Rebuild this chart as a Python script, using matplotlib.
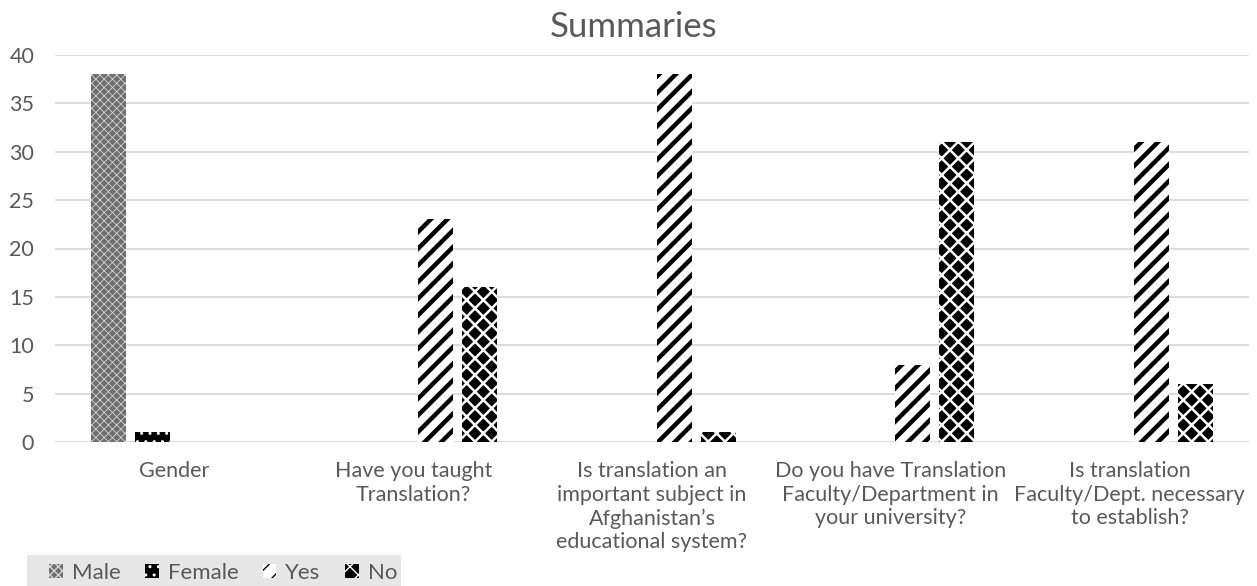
import matplotlib.pyplot as plt
from matplotlib.patches import Rectangle
import numpy as np

plt.rcParams['font.family'] = ['Lato', 'DejaVu Sans']

categories = [
    'Gender',
    'Have you taught\nTranslation?',
    'Is translation an\nimportant subject in\nAfghanistan\u2019s\neducational system?',
    'Do you have Translation\nFaculty/Department in\nyour university?',
    'Is translation\nFaculty/Dept. necessary\nto establish?',
]
series_names = ['Male', 'Female', 'Yes', 'No']
male = [38, 0, 0, 0, 0]
female = [1, 0, 0, 0, 0]
yes = [0, 23, 38, 8, 31]
no = [0, 16, 1, 31, 6]
yticks = [0, 5, 10, 15, 20, 25, 30, 35, 40]

text_grey = '#595959'
grid_grey = '#d9d9d9'

# face colour, hatch, hatch colour, hatch line width per series
styles = [
    ('#6e6e6e', 'xxxx', '#d4d4d4', 0.6),
    ('black', '..', 'white', 1.0),
    ('white', '//', 'black', 3.2),
    ('black', 'xx', 'white', 1.8),
]

W, H = 1257, 586
fig = plt.figure(figsize=(W / 100, H / 100), dpi=100)
ax = fig.add_axes([55 / W, 1 - 442 / H, (1249 - 55) / W, (442 - 55) / H])

x = np.arange(len(categories))
step = 0.1843
width = 0.1466
handles = []
for i, (vals, name, st) in enumerate(zip([male, female, yes, no], series_names, styles)):
    face, hatch, hcol, hlw = st
    with plt.rc_context({'hatch.linewidth': hlw, 'hatch.color': hcol}):
        bars = ax.bar(x + (i - 1.5) * step, vals, width, color=face,
                      edgecolor=hcol, linewidth=0, hatch=hatch, label=name)
        for b in bars:
            if hasattr(b, 'set_hatch_linewidth'):
                b.set_hatch_linewidth(hlw)
    handles.append(bars)

ax.set_xlim(-0.5, len(categories) - 0.5)
ax.set_ylim(0, 40)
ax.set_yticks(yticks)
ax.set_xticks(x)
ax.set_xticklabels(categories, linespacing=1.22, va='top')
ax.tick_params(axis='both', length=0, colors=text_grey, labelsize=15.5)
ax.tick_params(axis='x', pad=14)
ax.tick_params(axis='y', pad=15)
ax.yaxis.grid(True, color=grid_grey, linewidth=1.3)
ax.set_axisbelow(True)
for s in ax.spines.values():
    s.set_visible(False)

fig.text(634 / W, 1 - 37 / H, 'Summaries', ha='center', va='baseline',
         fontsize=25, color=text_grey)

# grey strip behind the legend
fig.patches.append(Rectangle((27 / W, 0), (401 - 27) / W, 1 - 555 / H,
                             transform=fig.transFigure, facecolor='#e6e6e6',
                             edgecolor='none', zorder=0))

leg = fig.legend(handles=handles, labels=series_names, loc='center left',
                 bbox_to_anchor=(49 / W, 1 - 573 / H), ncol=4, frameon=False,
                 fontsize=16, handlelength=0.62, handleheight=0.62,
                 handletextpad=0.4, columnspacing=1.1, borderpad=0,
                 borderaxespad=0)
for t in leg.get_texts():
    t.set_color(text_grey)

fig.savefig('out.png', dpi=100)
